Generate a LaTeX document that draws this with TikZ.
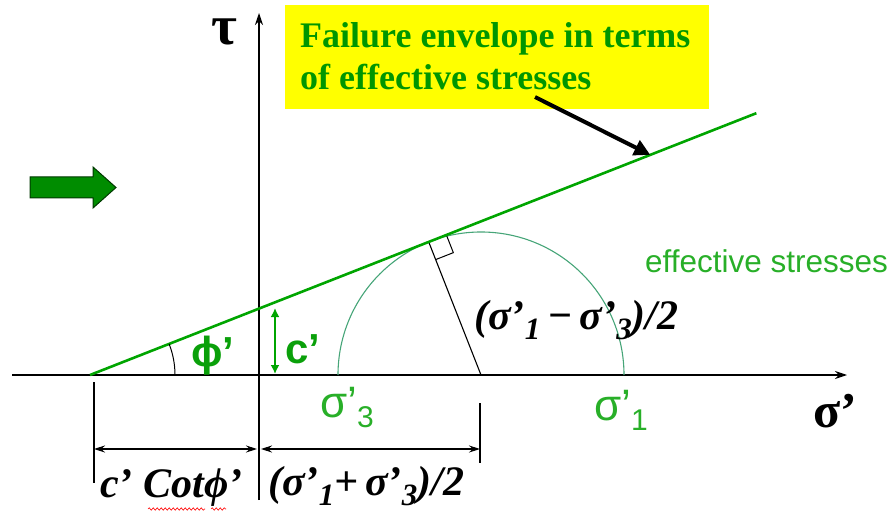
\documentclass[tikz,border=0pt]{standalone}
\usepackage{fontspec}
\setmainfont{Liberation Serif}
\setsansfont{Liberation Sans}
\usetikzlibrary{calc,arrows.meta,decorations.pathmorphing}
\definecolor{envgreen}{RGB}{0,165,0}
\definecolor{txtgreen}{RGB}{0,150,0}
\definecolor{boldgreen}{RGB}{10,160,10}
\definecolor{lightgreen}{RGB}{40,175,40}
\definecolor{circgreen}{RGB}{70,165,120}
\definecolor{boxyellow}{RGB}{255,255,0}
\definecolor{arrowgreen}{RGB}{0,140,0}
\newcommand{\fsz}[1]{\fontsize{#1}{#1}\selectfont}
\newcommand{\lowsub}[1]{\raisebox{-10pt}{\fsz{31}#1}}
\begin{document}
\begin{tikzpicture}[x=1pt,y=1pt,
  axisline/.style={line width=1.2pt,-{Stealth[length=12pt,width=8pt]}},
  thinline/.style={line width=1.1pt},
  dimarrow/.style={line width=1.1pt,{Stealth[length=11pt,width=7pt]}-{Stealth[length=11pt,width=7pt]}},
  envline/.style={envgreen,line width=2.6pt},
  formula/.style={font=\fsz{42}\bfseries\itshape,inner sep=0,anchor=base west},
  glabel/.style={lightgreen,font=\sffamily\fsz{44},inner sep=0,anchor=base west},
  gbold/.style={boldgreen,font=\sffamily\bfseries\fsz{42},inner sep=0,anchor=base west},
  boxtext/.style={txtgreen,font=\fsz{36}\bfseries,inner sep=0,anchor=base west}]
\useasboundingbox (0,0) rectangle (892,515);

% yellow box
\node[fill=boxyellow,minimum width=424,minimum height=104,inner sep=0,anchor=north west] (box) at (285,510) {};
\node[boxtext] (l1) at (300,467) {Failure envelope in terms};
\node[boxtext] (l2) at (300,425) {of effective stresses};

% axes
\coordinate (xl) at (12,140);
\coordinate (xr) at (847,140);
\coordinate (yb) at (259,15);
\coordinate (yt) at (259,502);
\draw[axisline] (xl) -- (xr);
\draw[axisline] (yb) -- (yt);

% geometry
\coordinate (A) at (90,140);
\coordinate (B) at ($(A)+(21.45:716)$);
\coordinate (C) at (481,140);
\coordinate (T) at ($(C)+(111.45:143)$);
\coordinate (E) at ($(A)+(21.45:602)$);

% circle
\draw[circgreen,line width=1.1pt] (338,140) arc (180:0:143);
% radius
\draw[thinline] (C) -- (T);
% right angle mark
\coordinate (m1) at ($(T)!19pt!(B)$);
\coordinate (m2) at ($(T)!19pt!(C)$);
\draw[line width=1pt] (m1) -- ($(m1)+(m2)-(T)$) -- (m2);
% failure envelope
\draw[envline] (A) -- (B);
% angle arc
\draw[line width=1pt] ($(A)+(85,0)$) arc (0:21.45:85);

% c' arrow
\coordinate (c0) at (275,141);
\coordinate (c1) at (275,207);
\draw[envgreen,line width=2.6pt,{Latex[length=9pt,width=9pt]}-{Latex[length=9pt,width=9pt]}] (c0) -- (c1);

% dimension lines
\coordinate (t1a) at (94,133);
\coordinate (t1b) at (94,32);
\coordinate (t2a) at (480,112);
\coordinate (t2b) at (480,52);
\draw[thinline] (t1a) -- (t1b);
\draw[thinline] (t2a) -- (t2b);
\coordinate (d1) at (94,66);
\coordinate (d2) at (257,66);
\coordinate (d3) at (261,66);
\coordinate (d4) at (480,66);
\draw[dimarrow] (d1) -- (d2);
\draw[dimarrow] (d3) -- (d4);

% labels
\node[font=\fsz{56}\bfseries,inner sep=0,text height=28pt,text depth=1pt,anchor=base west] (tau) at (211,470) {τ};
\node[font=\fsz{50}\bfseries,inner sep=0,anchor=base west] (sig) at (813,88) {σ’};
\node[gbold] (phi) at (191,149) {ϕ’};
\node[gbold] (cp) at (285,152) {c’};
\node[glabel] (s3) at (320,98) {σ’\raisebox{-10pt}{\fsz{30}3}};
\node[glabel] (s1) at (594,95) {σ’\raisebox{-10pt}{\fsz{30}1}};
\node[lightgreen,font=\sffamily\fsz{31.5},inner sep=0,anchor=base west] (eff) at (645,243) {effective stresses};

\node[formula] (minus) at (474,186) {(σ’\lowsub{1}\,−\,σ’\lowsub{3})/2};
\node[formula] (plus) at (268,20) {(σ’\lowsub{1}+\,σ’\lowsub{3})/2};
\node[formula] (cot) at (100,18) {c’ Cotϕ’};
\draw[red,line width=0.6pt,decorate,decoration={snake,amplitude=1.2pt,segment length=4pt}] ($(cot.base west)+(48,-12)$) -- ($(cot.base west)+(105,-12)$);
\draw[red,line width=0.6pt,decorate,decoration={snake,amplitude=1.2pt,segment length=4pt}] ($(cot.base west)+(111,-12)$) -- ($(cot.base west)+(126,-12)$);

% black pointer arrow
\coordinate (p0) at (535,418);
\draw[line width=4pt,-{Triangle[length=16pt,width=16pt]}] (p0) -- (E);

% green block arrow
\draw[fill=arrowgreen,draw=black!60!arrowgreen,line width=1pt]
  (30,317) -- (93,317) -- (93,307) -- (116,327.5) -- (93,348) -- (93,338) -- (30,338) -- cycle;
\end{tikzpicture}
\end{document}
